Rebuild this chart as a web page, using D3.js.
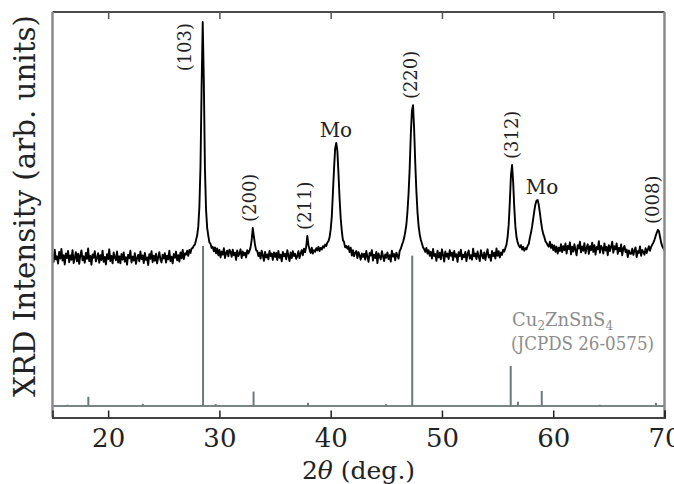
<!DOCTYPE html>
<html>
<head>
<meta charset="utf-8">
<script src="https://cdn.jsdelivr.net/npm/d3@7"></script>
<style>
  html, body { margin: 0; padding: 0; background: #fff; }
  svg { display: block; }
  text { font-family: "DejaVu Serif", serif; }
</style>
</head>
<body>
<div id="chart"></div>
<script>
// measured scan, 15.0 to 70.0 deg in 0.1 deg steps (arb. units)
const scanStart = 15.0;
const scanStep = 0.1;
const scanCounts = [
  163,136,180,145,156,130,172,148,182,141,160,127,166,150,175,135,159,144,178,132, // 15
  151,171,138,165,129,160,177,142,156,133,168,147,184,139,157,126,163,151,174,138, // 17
  149,167,133,160,143,176,136,154,127,164,146,181,139,157,131,170,151,142,173,134, // 19
  156,131,164,144,170,137,153,126,162,149,176,134,155,141,167,129,150,161,138,173, // 21
  146,159,132,168,143,152,125,164,147,174,135,158,140,165,131,153,171,144,134,162, // 23
  148,167,134,158,145,176,139,155,131,164,151,173,142,160,137,170,149,179,146,166, // 25
  162,176,158,179,168,184,185,194,198,214,230,262,332,478,760,993,782,468,322,258, // 27
  230,206,201,186,190,174,188,167,184,160,179,152,173,162,185,150,168,176,156,180, // 29
  172,154,180,160,169,143,177,157,166,181,150,173,160,169,152,178,166,175,188,215, // 31
  257,226,197,178,175,157,169,148,176,160,140,172,152,163,145,175,157,166,143,170, // 33
  154,168,143,175,151,162,138,172,156,165,145,178,159,139,170,150,174,157,165,147, // 35
  157,174,150,166,178,160,183,171,190,229,196,180,168,187,166,178,172,185,177,190, // 37
  175,186,180,192,187,198,193,205,210,224,252,298,382,468,540,561,533,452,362,292, // 39
  246,214,207,188,193,183,192,171,187,159,178,156,168,175,150,171,159,144,166,154, // 41
  165,144,175,154,136,168,159,178,141,162,150,172,132,166,154,145,174,157,139,163, // 43
  151,170,146,160,137,176,155,164,142,169,158,148,175,183,196,207,221,243,268,316, // 45
  380,470,590,675,696,610,490,390,315,265,235,215,202,188,182,172,186,166,178,158, // 47
  172,148,182,157,164,140,176,152,169,145,181,161,137,173,155,166,146,178,158,169, // 49
  142,175,154,163,136,171,157,180,145,162,153,172,139,165,177,148,160,144,183,156, // 51
  166,146,173,155,139,178,159,149,170,143,164,181,152,161,140,175,157,169,148,184, // 53
  158,174,152,170,161,180,173,186,198,225,270,350,445,482,420,330,262,225,206,195, // 55
  188,196,180,190,176,185,181,194,200,222,240,262,290,318,342,355,357,340,312,280, // 57
  254,236,225,210,204,196,190,208,186,198,178,195,172,190,166,187,175,199,171,192, // 59
  178,202,166,193,182,206,163,190,173,199,179,160,196,184,208,170,191,176,203,167, // 61
  187,199,165,192,178,205,172,196,162,189,181,210,169,193,186,166,202,177,190,160, // 63
  196,175,189,208,169,192,181,202,165,186,174,198,160,184,193,171,180,153,177,166, // 65
  165,183,161,177,188,153,174,168,191,158,179,171,162,185,168,180,192,176,190,198, // 67
  205,215,228,240,250,246,225,205,192,185,178                                      // 69
];

// JCPDS 26-0575 reference lines
const refAngle = [16.35, 18.22, 23.12, 28.53, 29.66, 33.07, 37.96, 44.98, 47.33, 56.18, 56.83, 58.97, 64.18, 69.23];
const refRel   = [0.8, 5.8, 1.3, 100, 1.2, 9, 2, 1.2, 94, 25, 2.7, 9.4, 0.8, 2];

// peak labels: text, peak position, label centre position
const hklText  = ["(200)", "(211)", "(220)", "(312)", "(008)"];
const hklPeak  = [33.0, 37.9, 47.4, 56.3, 69.4];
const hklLabel = [32.75, 37.69, 47.22, 56.3, 68.97];
const moPeak   = [40.5, 58.6];
const moLabel  = [40.47, 59.0];

const xTicks = [20, 30, 40, 50, 60, 70];

const width = 674, height = 484;
const plotLeft = 52.5, plotRight = 664.5, plotTop = 12, plotBottom = 417.5;

const scan = scanCounts.map((c, i) => ({ t: scanStart + i * scanStep, c: c }));

const x = d3.scaleLinear().domain([15, 70]).range([plotLeft, plotRight]);
const y = d3.scaleLinear().domain([0, 1000]).range([300, 20]);
const yRef = d3.scaleLinear().domain([0, 100]).range([406, 246]);

function localMax(angle) {
  return d3.max(scan.filter(d => Math.abs(d.t - angle) <= 0.31), d => d.c);
}

const svg = d3.select("#chart").append("svg")
  .attr("width", width)
  .attr("height", height);

// reference pattern baseline and sticks
svg.append("line")
  .attr("x1", plotLeft).attr("x2", plotRight)
  .attr("y1", yRef(0)).attr("y2", yRef(0))
  .attr("stroke", "#7b8585")
  .attr("stroke-width", 2);

svg.selectAll("line.stick")
  .data(refAngle)
  .enter()
  .append("line")
  .attr("class", "stick")
  .attr("x1", d => x(d)).attr("x2", d => x(d))
  .attr("y1", yRef(0))
  .attr("y2", (d, i) => yRef(refRel[i]))
  .attr("stroke", "#6d7a7a")
  .attr("stroke-width", 2);

// measured curve
const line = d3.line()
  .x(d => x(d.t))
  .y(d => y(d.c));

svg.append("path")
  .datum(scan.filter(d => d.t <= 70.001))
  .attr("d", line)
  .attr("fill", "none")
  .attr("stroke", "#000")
  .attr("stroke-width", 1.9)
  .attr("stroke-linejoin", "round");

// frame
svg.append("line")
  .attr("x1", plotLeft).attr("x2", plotRight).attr("y1", plotTop).attr("y2", plotTop)
  .attr("stroke", "#111").attr("stroke-width", 1.5);
svg.append("line")
  .attr("x1", plotLeft).attr("x2", plotLeft).attr("y1", plotTop).attr("y2", plotBottom)
  .attr("stroke", "#8a8a8a").attr("stroke-width", 2.5);
svg.append("line")
  .attr("x1", plotRight).attr("x2", plotRight).attr("y1", plotTop).attr("y2", plotBottom)
  .attr("stroke", "#8a8a8a").attr("stroke-width", 2.5);

// axes
const xAxis = svg.append("g")
  .attr("transform", `translate(0,${plotBottom})`)
  .call(d3.axisBottom(x).tickValues(xTicks).tickSize(-7).tickPadding(11).tickFormat(d3.format("d")));
xAxis.select(".domain").attr("stroke", "#444").attr("stroke-width", 2);
xAxis.selectAll(".tick line").attr("stroke", "#222").attr("stroke-width", 1.5);
xAxis.selectAll(".tick text")
  .attr("fill", "#222")
  .style("font-family", "DejaVu Serif, serif")
  .style("font-size", "26px");

const topAxis = svg.append("g")
  .attr("transform", `translate(0,${plotTop})`)
  .call(d3.axisTop(x).tickValues(xTicks.slice(0, 5)).tickSize(-7).tickFormat(""));
topAxis.select(".domain").remove();
topAxis.selectAll(".tick line").attr("stroke", "#555").attr("stroke-width", 1.5);

// axis titles
const xTitle = svg.append("text")
  .attr("x", (plotLeft + plotRight) / 2)
  .attr("y", 479)
  .attr("text-anchor", "middle")
  .attr("fill", "#222")
  .style("font-size", "25px");
xTitle.append("tspan").text("2");
xTitle.append("tspan").style("font-style", "italic").text("θ");
xTitle.append("tspan").text(" (deg.)");

svg.append("text")
  .attr("transform", "translate(35,206) rotate(-90)")
  .attr("text-anchor", "middle")
  .attr("fill", "#222")
  .attr("textLength", 382)
  .attr("lengthAdjust", "spacingAndGlyphs")
  .style("font-size", "30px")
  .text("XRD Intensity (arb. units)");

// peak labels
svg.append("text")
  .attr("transform", `translate(${x(28.5) - 12.2},${y(localMax(28.5)) + 1}) rotate(-90)`)
  .attr("text-anchor", "end")
  .attr("fill", "#222")
  .style("font-size", "18px")
  .text("(103)");

svg.selectAll("text.hkl")
  .data(hklText)
  .enter()
  .append("text")
  .attr("class", "hkl")
  .attr("transform", (d, i) => `translate(${x(hklLabel[i]) + 6},${y(localMax(hklPeak[i])) - 6}) rotate(-90)`)
  .attr("text-anchor", "start")
  .attr("fill", "#222")
  .style("font-size", "18px")
  .text(d => d);

svg.selectAll("text.mo")
  .data(moPeak)
  .enter()
  .append("text")
  .attr("class", "mo")
  .attr("x", (d, i) => x(moLabel[i]))
  .attr("y", d => y(localMax(d)) - 6)
  .attr("text-anchor", "middle")
  .attr("fill", "#222")
  .style("font-size", "20px")
  .text("Mo");

// reference legend
const leg1 = svg.append("text")
  .attr("x", 512)
  .attr("y", 326)
  .attr("fill", "#8c8c8c")
  .style("font-size", "18px");
leg1.append("tspan").text("Cu");
leg1.append("tspan").attr("dy", 4).style("font-size", "12px").text("2");
leg1.append("tspan").attr("dy", -4).text("ZnSnS");
leg1.append("tspan").attr("dy", 4).style("font-size", "12px").text("4");

svg.append("text")
  .attr("x", 511)
  .attr("y", 350)
  .attr("fill", "#8c8c8c")
  .attr("textLength", 143)
  .attr("lengthAdjust", "spacingAndGlyphs")
  .style("font-size", "18px")
  .text("(JCPDS 26-0575)");
</script>
</body>
</html>
